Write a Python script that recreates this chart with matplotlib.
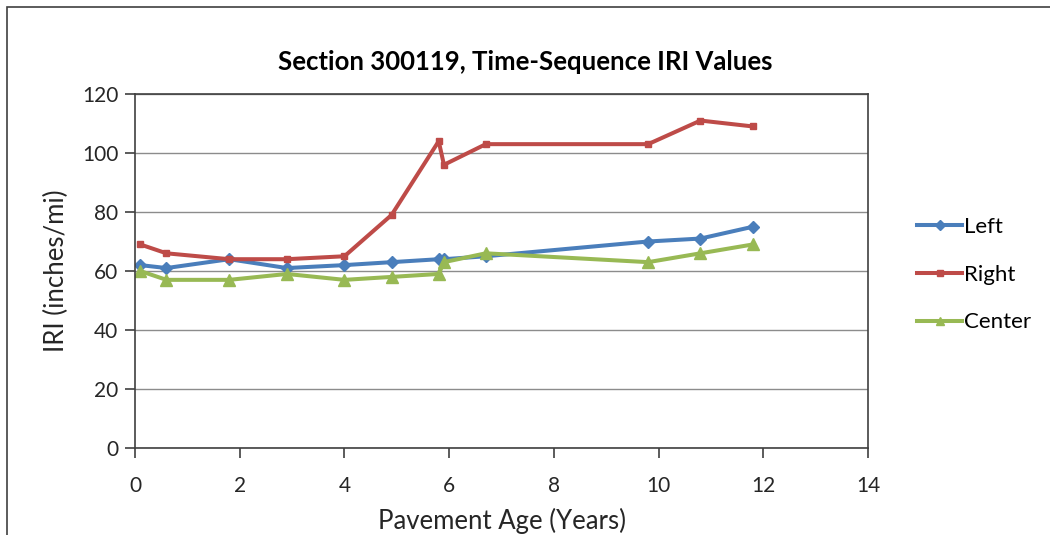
import matplotlib
matplotlib.use("Agg")
import matplotlib.pyplot as plt
from matplotlib.patches import Rectangle

plt.rcParams['font.family'] = ['Lato', 'DejaVu Sans']

# pavement age (years) of each survey
age = [0.1, 0.6, 1.8, 2.9, 4.0, 4.9, 5.8, 5.9, 6.7, 9.8, 10.8, 11.8]

# IRI (inches/mi)
left_iri = [62, 61, 64, 61, 62, 63, 64, 64, 65, 70, 71, 75]
right_iri = [69, 66, 64, 64, 65, 79, 104, 96, 103, 103, 111, 109]
center_iri = [60, 57, 57, 59, 57, 58, 59, 63, 66, 63, 66, 69]

xticks = [0, 2, 4, 6, 8, 10, 12, 14]
yticks = [0, 20, 40, 60, 80, 100, 120]

fig = plt.figure(figsize=(10.5, 5.35), dpi=100)
ax = fig.add_axes([0.1286, 0.1626, 0.6981, 0.6617])

ax.plot(age, left_iri, '-D', color='#4A7EBB', lw=2.9, ms=6.5, label='Left')
ax.plot(age, right_iri, '-s', color='#BE4B48', lw=2.9, ms=5, label='Right')
ax.plot(age, center_iri, '-^', color='#98B954', lw=2.9, ms=8, label='Center')

ax.set_xlim(0, 14)
ax.set_ylim(0, 120)
ax.set_xticks(xticks)
ax.set_yticks(yticks)
ax.yaxis.grid(True, color='#8c8c8c', lw=1)
ax.set_axisbelow(True)
for s in ax.spines.values():
    s.set_color('#404040')
    s.set_linewidth(1.2)
ax.tick_params(direction='out', length=7, width=1.2, color='#404040',
               labelsize=15, pad=5, labelcolor='#262626')
ax.tick_params(axis='x', pad=13)

ax.set_xlabel('Pavement Age (Years)', fontsize=18.5, color='#262626', labelpad=9)
ax.set_ylabel('IRI (inches/mi)', fontsize=18.5, color='#262626', labelpad=9)
fig.text(0.5, 0.885, 'Section 300119, Time-Sequence IRI Values',
         ha='center', va='center', fontsize=18.5, fontweight='bold')

ax.legend(loc='center left', bbox_to_anchor=(1.04, 0.49), frameon=False,
          fontsize=16, handlelength=2.0, handletextpad=0.1, labelspacing=1.25,
          markerscale=0.8)

# outer chart border
fig.patches.append(Rectangle((0.007, -0.05), 1.1, 1.037, transform=fig.transFigure,
                             fill=False, edgecolor='#404040', lw=1.2))

fig.savefig('out.png', dpi=100)
